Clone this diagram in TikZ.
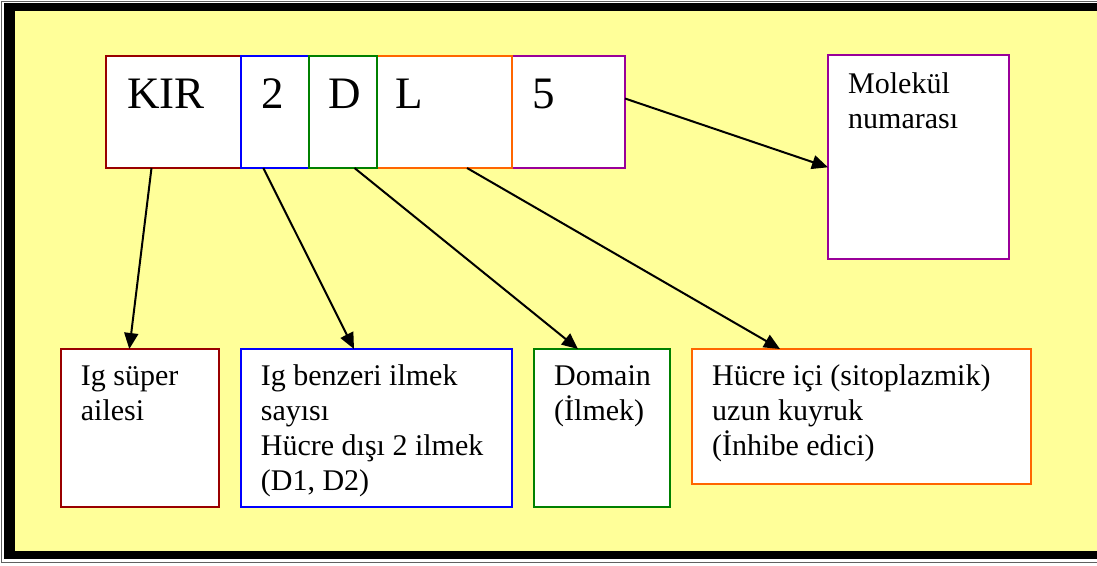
\documentclass[tikz,border=0pt]{standalone}
\usepackage{fontspec}
\setmainfont{Liberation Serif}
\usetikzlibrary{arrows.meta}

\definecolor{pageyellow}{HTML}{FFFF99}
\definecolor{framegray}{HTML}{606060}
\definecolor{kirred}{HTML}{990000}
\definecolor{numblue}{HTML}{0000FF}
\definecolor{domgreen}{HTML}{008000}
\definecolor{tailorange}{HTML}{FF6600}
\definecolor{molpurple}{HTML}{990099}

\tikzset{
  box/.style={draw, fill=white, line width=2pt, inner sep=0pt, outer sep=0pt, anchor=north west},
  bigtxt/.style={font=\fontsize{45}{50}\selectfont, inner sep=0pt, anchor=base west},
  % multi-line labels are placed by the baseline of their last line
  txt/.style={font=\fontsize{30}{35}\selectfont, inner sep=0pt, anchor=base west, align=left},
  arr/.style={line width=2pt, -{Triangle[length=16pt,width=14pt]}}
}

\begin{document}
\begin{tikzpicture}[x=1pt,y=-1pt]
  \useasboundingbox (0,0) rectangle (1097,565);

  % double frame around the yellow page
  \fill[white] (0,0) rectangle (1097,565);
  \draw[framegray, line width=1pt] (1.5,1.5) rectangle (1120,562.5);
  \fill[black] (4,3) rectangle (1120,559);
  \fill[pageyellow] (15,11) rectangle (1120,551);

  % name segments KIR 2 D L 5
  \node[box, draw=kirred, minimum width=135.5pt, minimum height=112.5pt] (kir) at (105.5,55.5) {};
  \node[box, draw=numblue, minimum width=67.5pt, minimum height=112.5pt] (two) at (241,55.5) {};
  \node[box, draw=molpurple, minimum width=113pt, minimum height=112.5pt] (five) at (512,55.5) {};
  \node[box, draw=tailorange, minimum width=135pt, minimum height=112.5pt] (ll) at (377,55.5) {};
  \node[box, draw=domgreen, minimum width=68.5pt, minimum height=112.5pt] (dd) at (308.5,55.5) {};

  \node[bigtxt] (tkir) at (127,108.5) {KIR};
  \node[bigtxt] (ttwo) at (261,108.5) {2};
  \node[bigtxt] (tdd) at (328,108.5) {D};
  \node[bigtxt] (tll) at (395.5,108.5) {L};
  \node[bigtxt] (tfive) at (532,108.5) {5};

  % explanation boxes
  \node[box, draw=molpurple, minimum width=180.5pt, minimum height=203.5pt] (mol) at (828,55.3) {};
  \node[box, draw=kirred, minimum width=158.5pt, minimum height=157.7pt] (ig) at (60.7,349) {};
  \node[box, draw=numblue, minimum width=271.3pt, minimum height=157.7pt] (benz) at (241,349) {};
  \node[box, draw=domgreen, minimum width=136.5pt, minimum height=157.7pt] (dom) at (533.5,349) {};
  \node[box, draw=tailorange, minimum width=339pt, minimum height=135pt] (hc) at (692,349) {};

  \node[txt] (tmol) at (848,128) {Molekül\\numarası};
  \node[txt] (tig) at (80.7,420) {Ig süper\\ailesi};
  \node[txt] (tbenz) at (260.7,490) {Ig benzeri ilmek\\sayısı\\Hücre dışı 2 ilmek\\(D1, D2)};
  \node[txt] (tdom) at (554,420) {Domain\\(İlmek)};
  \node[txt] (thc) at (712,455) {Hücre içi (sitoplazmik)\\uzun kuyruk\\(İnhibe edici)};

  % connectors
  \draw[arr] ([xshift=46pt]kir.south west) -- ([xshift=68.6pt]ig.north west);
  \draw[arr] ([xshift=22.3pt]two.south west) -- ([xshift=113pt]benz.north west);
  \draw[arr] ([xshift=46pt]dd.south west) -- ([xshift=44.5pt]dom.north west);
  \draw[arr] ([xshift=90pt]ll.south west) -- ([xshift=88pt]hc.north west);
  \draw[arr] ([yshift=-43pt]five.north east) -- ([yshift=-112pt]mol.north west);
\end{tikzpicture}
\end{document}
